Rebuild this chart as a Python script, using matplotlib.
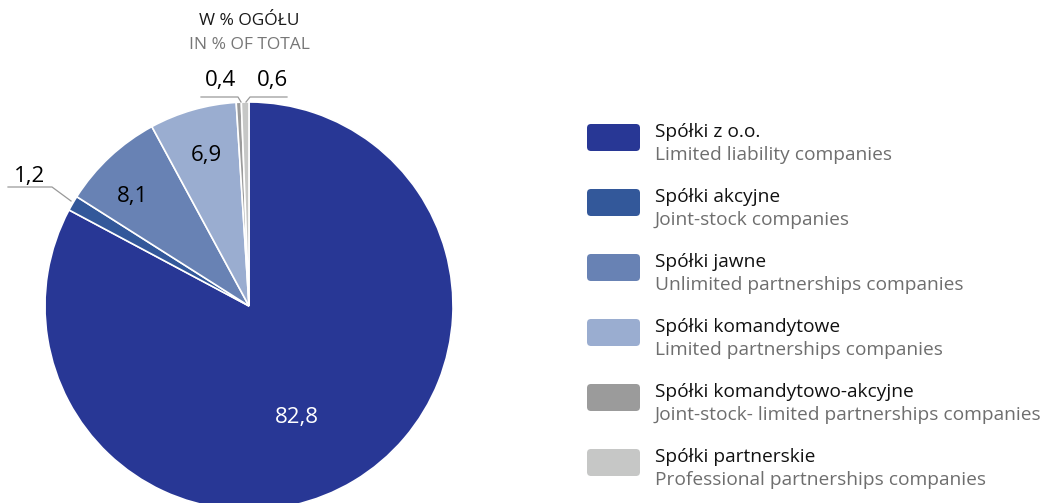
import matplotlib.pyplot as plt
from matplotlib.patches import FancyBboxPatch
from matplotlib import rcParams

rcParams['font.family'] = ['Open Sans', 'DejaVu Sans']

# data
shares = [82.8, 1.2, 8.1, 6.9, 0.4, 0.6]
share_labels = ['82,8', '1,2', '8,1', '6,9', '0,4', '0,6']
names_pl = ['Spółki z o.o.', 'Spółki akcyjne', 'Spółki jawne', 'Spółki komandytowe',
            'Spółki komandytowo-akcyjne', 'Spółki partnerskie']
names_en = ['Limited liability companies', 'Joint-stock companies',
            'Unlimited partnerships companies', 'Limited partnerships companies',
            'Joint-stock- limited partnerships companies', 'Professional partnerships companies']
colors = ['#283795', '#33589a', '#6882b4', '#9aadd0', '#9b9b9b', '#c6c7c6']

W, H = 1046, 503
fig = plt.figure(figsize=(W / 100, H / 100), dpi=100)
ax = fig.add_axes([0, 0, 1, 1])

# pixel-like coordinates, y measured upward
cx, cy, r = 249, H - 306, 204
wedges, _ = ax.pie(shares, colors=colors, startangle=90, counterclock=False,
                   center=(cx, cy), radius=r, frame=True,
                   wedgeprops=dict(edgecolor='white', linewidth=1.2))
ax.set_xlim(0, W)
ax.set_ylim(0, H)
ax.set_aspect('equal')
ax.axis('off')

def py(y):
	return H - y

# labels inside slices
ax.text(297, py(418), share_labels[0], color='white', fontsize=16, ha='center', va='center')
ax.text(132, py(196), share_labels[2], color='black', fontsize=16, ha='center', va='center')
ax.text(206, py(155), share_labels[3], color='black', fontsize=16, ha='center', va='center')

# labels outside with leader lines
lc = '#999999'
ax.text(30, py(176), share_labels[1], fontsize=16, ha='center', va='center')
ax.plot([8, 52, 71], [py(187), py(187), py(201)], color=lc, lw=0.9)
ax.text(220, py(80), share_labels[4], fontsize=16, ha='center', va='center')
ax.plot([201, 238, 241], [py(97), py(97), py(102)], color=lc, lw=0.9)
ax.text(272, py(80), share_labels[5], fontsize=16, ha='center', va='center')
ax.plot([246, 250, 287], [py(102), py(97), py(97)], color=lc, lw=0.9)

# title
ax.text(249, py(21), 'W % OGÓŁU', fontsize=12.5, color='#1a1a1a', ha='center', va='center')
ax.text(249, py(45), 'IN % OF TOTAL', fontsize=12.5, color='#777777', ha='center', va='center')

# legend
for i in range(len(shares)):
	top = 124 + i * 65
	box = FancyBboxPatch((587, py(top + 27)), 53, 27,
	                     boxstyle='round,pad=0,rounding_size=4',
	                     facecolor=colors[i], edgecolor='none')
	ax.add_patch(box)
	ax.text(655, py(top + 8), names_pl[i], fontsize=13.8, color='#111111', ha='left', va='center')
	ax.text(655, py(top + 31), names_en[i], fontsize=13.8, color='#6e6e6e', ha='left', va='center')

fig.savefig('out.png', dpi=100)
